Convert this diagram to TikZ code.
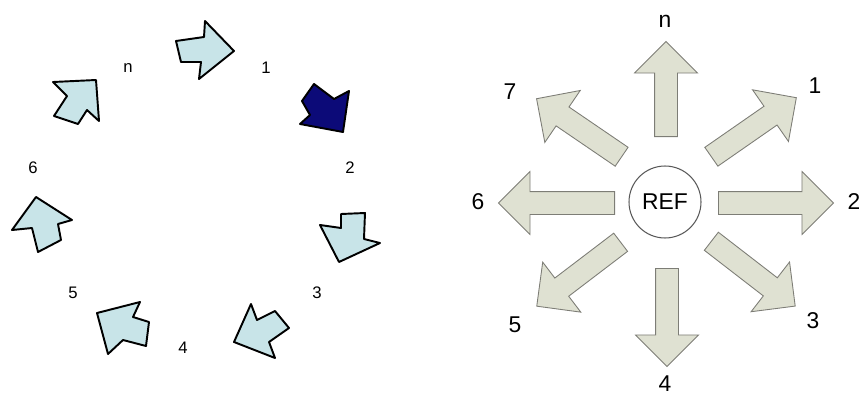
\documentclass[tikz,border=0pt]{standalone}
\usepackage{fontspec}
\setmainfont{Liberation Sans}
\usetikzlibrary{shapes.arrows}
\definecolor{paleblue}{RGB}{200,228,232}
\definecolor{navyblue}{RGB}{12,10,120}
\definecolor{khaki}{RGB}{223,225,210}
\definecolor{khakiline}{RGB}{125,125,118}

\begin{document}
\begin{tikzpicture}[x=0.02cm, y=-0.02cm,
	larrow/.style={draw=black, fill=paleblue, line width=1.1pt, line join=round},
	lnum/.style={font=\fontsize{9.5}{11}\selectfont},
	rarrow/.style={single arrow, draw=khakiline, fill=khaki, line width=0.5pt, inner xsep=0pt, inner ysep=2.2mm, single arrow head extend=4mm, anchor=tail},
	rnum/.style={font=\fontsize{13}{15}\selectfont}]
	\useasboundingbox (0,0) rectangle (859,396);
	% left ring
	\draw[larrow] (176,41) -- (204,37) -- (205,21) -- (234,51) -- (199,79) -- (201,62) -- (181,62) -- cycle;
	\draw[larrow, fill=navyblue] (314,84) -- (334,99) -- (349,91) -- (343,132) -- (300,124) -- (310,115) -- (302,101) -- cycle;
	\draw[larrow] (341,214) -- (365,213) -- (364,239) -- (380,243) -- (339,262) -- (320,225) -- (341,228) -- cycle;
	\draw[larrow] (251,304) -- (257,320) -- (275,311) -- (289,328) -- (269,342) -- (275,358) -- (234,342) -- cycle;
	\draw[larrow] (97,313) -- (140,302) -- (133,317) -- (149,322) -- (146,346) -- (123,340) -- (108,354) -- cycle;
	\draw[larrow] (36,197) -- (72,220) -- (58,224) -- (61,240) -- (38,252) -- (32,228) -- (12,230) -- cycle;
	\draw[larrow] (53,82) -- (96,80) -- (99,121) -- (87,110) -- (78,124) -- (54,116) -- (67,96) -- cycle;
	\node[lnum] (ln) at (128,68) {n};
	\node[lnum] (l1) at (266,68) {1};
	\node[lnum] (l2) at (350,168) {2};
	\node[lnum] (l3) at (317,293) {3};
	\node[lnum] (l4) at (183,348) {4};
	\node[lnum] (l5) at (73,293) {5};
	\node[lnum] (l6) at (33,168) {6};
	% right star
	\node[draw=black!65, circle, line width=0.6pt, minimum size=14.4mm, inner sep=0pt, rnum] (ref) at (665,202) {REF};
	\node[rarrow, minimum height=19mm, rotate=90] (an) at (666,137) {};
	\node[rarrow, minimum height=20.7mm, rotate=34.8] (a1) at (711,157) {};
	\node[rarrow, minimum height=23mm, rotate=0] (a2) at (718,203) {};
	\node[rarrow, minimum height=21.2mm, rotate=-37.7] (a3) at (711,241) {};
	\node[rarrow, minimum height=19.6mm, rotate=-90] (a4) at (667,268) {};
	\node[rarrow, minimum height=21.1mm, rotate=217.3] (a5) at (621,242) {};
	\node[rarrow, minimum height=23.2mm, rotate=180] (a6) at (615,203) {};
	\node[rarrow, minimum height=20.6mm, rotate=145.7] (a7) at (622,157) {};
	\node[rnum] (rn) at (665,21) {n};
	\node[rnum] (r1) at (815,86) {1};
	\node[rnum] (r2) at (854,202) {2};
	\node[rnum] (r3) at (813,321) {3};
	\node[rnum] (r4) at (665,384) {4};
	\node[rnum] (r5) at (515,325) {5};
	\node[rnum] (r6) at (478,202) {6};
	\node[rnum] (r7) at (510,92) {7};
\end{tikzpicture}
\end{document}
